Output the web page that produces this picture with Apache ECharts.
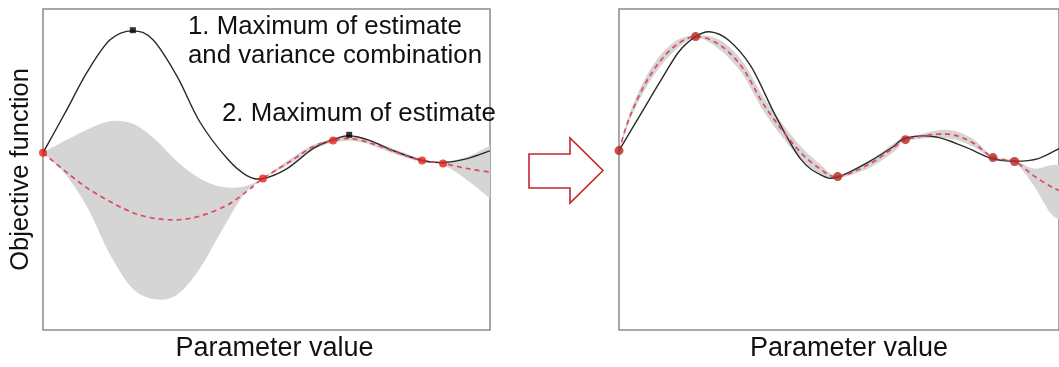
<!DOCTYPE html>
<html><head><meta charset="utf-8">
<script src="https://cdn.jsdelivr.net/npm/echarts@6/dist/echarts.min.js"></script>
<style>html,body{margin:0;padding:0;background:#fff}#c{width:1059px;height:367px}</style>
</head><body><div id="c"></div>
<script>
// ---------- Left panel (before) ----------
const leftTrueX = [0, 5.4, 9.8, 15.0, 20.1, 24.6, 30.0, 35.1, 41.2, 45.6, 49.2, 54.6, 60.4, 64.9, 68.5, 73.2, 78.3, 84.8, 89.5, 94.9, 100];
const leftTrueY = [55.2, 68.8, 80.2, 90.4, 93.2, 90.4, 79.0, 64.8, 53.4, 48.1, 47.2, 50.3, 56.5, 59.3, 60.5, 59.0, 55.9, 52.8, 52.2, 53.4, 55.8];
const leftEstX = [0, 9.0, 16.5, 22.4, 29.1, 35.1, 41.2, 45.6, 49.2, 55.3, 60.4, 64.9, 68.7, 73.8, 79.9, 84.8, 89.5, 94.9, 100];
const leftEstY = [55.2, 45.1, 38.9, 35.5, 34.3, 35.5, 38.9, 43.2, 47.2, 52.5, 57.1, 59.0, 59.6, 58.0, 54.9, 52.8, 51.9, 50.3, 49.2];
const leftBandX = [0, 5, 10, 15, 20, 25, 30, 35, 40, 45, 49.2, 55, 60, 65, 70, 75, 80, 85, 89.5, 95, 100];
const leftBandHi = [55.2, 59.0, 62.5, 65.0, 64.3, 59.5, 52.5, 47.3, 44.6, 44.7, 47.4, 53.0, 57.4, 59.6, 60.2, 58.2, 55.6, 53.2, 52.3, 54.0, 57.4];
const leftBandLo = [55.2, 48.5, 38.0, 23.5, 13.0, 9.6, 11.0, 19.0, 31.0, 42.3, 47.0, 51.6, 56.0, 58.4, 58.8, 56.8, 54.2, 52.2, 51.5, 46.6, 41.0];
const leftSamplesX = [0, 49.2, 64.9, 84.8, 89.5];
const leftSamplesY = [55.2, 47.2, 59.0, 52.8, 51.9];
const leftMaxX = [20.1, 68.5];
const leftMaxY = [93.4, 60.8];

// ---------- Right panel (after) ----------
const rightTrueX = [0, 4.7, 9.4, 13.6, 17.4, 20.6, 24.8, 30.0, 35.6, 41.2, 45.9, 49.6, 56.8, 62.2, 65.1, 71.8, 78.5, 84.8, 90.2, 95.3, 100];
const rightTrueY = [55.9, 66.7, 77.5, 86.7, 91.4, 92.9, 90.4, 82.1, 66.7, 53.4, 48.3, 47.6, 52.4, 57.0, 59.8, 60.2, 57.1, 53.4, 52.6, 53.4, 56.5];
const rightEstX = [0, 2.7, 7.2, 12.3, 17.4, 22.8, 28.0, 33.3, 40.5, 45.6, 49.7, 56.8, 62.9, 65.1, 74.0, 80.1, 85.0, 89.9, 94.2, 98.0, 100];
const rightEstY = [55.9, 67.3, 79.6, 88.0, 91.4, 88.9, 81.8, 69.4, 56.5, 50.3, 47.8, 51.6, 57.3, 59.3, 61.1, 58.6, 53.7, 52.5, 48.1, 44.8, 43.5];
const rightBandHi = [56.2, 68.5, 81.4, 89.5, 91.8, 90.4, 83.8, 71.6, 58.5, 51.8, 48.2, 52.8, 58.6, 59.7, 62.4, 59.8, 54.1, 52.9, 50.3, 51.3, 51.5];
const rightBandLo = [55.6, 66.1, 77.8, 86.5, 91.0, 87.4, 79.8, 67.2, 54.5, 48.8, 47.4, 50.4, 56.0, 58.9, 59.8, 57.4, 53.3, 52.1, 45.1, 36.5, 34.5];
const rightSamplesX = [0, 17.4, 49.7, 65.1, 85.0, 89.9];
const rightSamplesY = [55.9, 91.4, 47.8, 59.3, 53.7, 52.5];

const FONT = '"Liberation Sans", Arial, Helvetica, sans-serif';
const pairs = (xs, ys) => xs.map((x, i) => [x, ys[i]]);

function smoothSeg(pts) {
  let d = '';
  for (let i = 0; i < pts.length - 1; i++) {
    const p0 = pts[i - 1] || pts[i], p1 = pts[i], p2 = pts[i + 1], p3 = pts[i + 2] || pts[i + 1];
    const c1 = [p1[0] + (p2[0] - p0[0]) / 6, p1[1] + (p2[1] - p0[1]) / 6];
    const c2 = [p2[0] - (p3[0] - p1[0]) / 6, p2[1] - (p3[1] - p1[1]) / 6];
    d += ' C' + c1[0] + ',' + c1[1] + ' ' + c2[0] + ',' + c2[1] + ' ' + p2[0] + ',' + p2[1];
  }
  return d;
}
function bandSeries(idx, xs, lo, hi) {
  return {
    type: 'custom', xAxisIndex: idx, yAxisIndex: idx, z: 1, silent: true, clip: true,
    data: xs.map((x, i) => [x, lo[i], hi[i]]),
    encode: { x: 0, y: [1, 2] },
    renderItem: function (params, api) {
      if (params.dataIndex !== 0) return null;
      const up = xs.map((x, i) => api.coord([x, hi[i]]));
      const dn = xs.map((x, i) => api.coord([x, lo[i]])).reverse();
      const d = 'M' + up[0][0] + ',' + up[0][1] + smoothSeg(up) +
        ' L' + dn[0][0] + ',' + dn[0][1] + smoothSeg(dn) + ' Z';
      return { type: 'path', shape: { pathData: d }, style: { fill: '#d5d5d5', stroke: null } };
    }
  };
}
function curveSeries(idx, xs, ys, color, width, dash, z) {
  return {
    type: 'custom', xAxisIndex: idx, yAxisIndex: idx, z: z, silent: true, clip: true,
    data: pairs(xs, ys), encode: { x: 0, y: 1 },
    renderItem: function (params, api) {
      if (params.dataIndex !== 0) return null;
      const p = xs.map((x, i) => api.coord([x, ys[i]]));
      const d = 'M' + p[0][0] + ',' + p[0][1] + smoothSeg(p);
      return { type: 'path', shape: { pathData: d },
        style: { fill: null, stroke: color, lineWidth: width, lineDash: dash || null, lineCap: 'butt', lineJoin: 'round' } };
    }
  };
}
const axisOff = { axisLine: { show: false }, axisTick: { show: false }, axisLabel: { show: false }, splitLine: { show: false } };

const chart = echarts.init(document.getElementById('c'), null, { renderer: 'canvas' });
chart.setOption({
  animation: false,
  backgroundColor: '#fff',
  grid: [
    { left: 43, top: 9, width: 447, height: 324, show: true, borderColor: '#8a8a8a', borderWidth: 1.5, backgroundColor: 'transparent' },
    { left: 619, top: 9, width: 447, height: 324, show: true, borderColor: '#8a8a8a', borderWidth: 1.5, backgroundColor: 'transparent' }
  ],
  xAxis: [
    Object.assign({ type: 'value', gridIndex: 0, min: 0, max: 100, name: 'Parameter value', nameLocation: 'middle', nameGap: 5,
      nameTextStyle: { fontSize: 27, color: '#111', fontFamily: FONT, verticalAlign: 'top', padding: [0, 0, 0, 16] } }, axisOff),
    Object.assign({ type: 'value', gridIndex: 1, min: 0, max: 100, name: 'Parameter value', nameLocation: 'middle', nameGap: 5,
      nameTextStyle: { fontSize: 27, color: '#111', fontFamily: FONT, verticalAlign: 'top', padding: [0, 0, 0, 20] } }, axisOff)
  ],
  yAxis: [
    Object.assign({ type: 'value', gridIndex: 0, min: 0, max: 100, name: 'Objective function', nameLocation: 'middle', nameGap: 9,
      nameTextStyle: { fontSize: 25.5, color: '#111', fontFamily: FONT } }, axisOff),
    Object.assign({ type: 'value', gridIndex: 1, min: 0, max: 100 }, axisOff)
  ],
  graphic: [
    { type: 'polygon', shape: { points: [[529, 154], [570, 154], [570, 138], [603, 170.5], [570, 203], [570, 188], [529, 188]] },
      style: { fill: '#fff', stroke: '#c4262e', lineWidth: 1.6 } },
    { type: 'text', x: 188, y: 27, style: { text: '1. Maximum of estimate', font: '25.8px ' + FONT, fill: '#111', verticalAlign: 'middle' } },
    { type: 'text', x: 188, y: 56, style: { text: 'and variance combination', font: '25.8px ' + FONT, fill: '#111', verticalAlign: 'middle' } },
    { type: 'text', x: 222, y: 114, style: { text: '2. Maximum of estimate', font: '25.8px ' + FONT, fill: '#111', verticalAlign: 'middle' } }
  ],
  series: [
    bandSeries(0, leftBandX, leftBandLo, leftBandHi),
    curveSeries(0, leftTrueX, leftTrueY, '#2a2a2a', 1.4, null, 2),
    curveSeries(0, leftEstX, leftEstY, '#e2485a', 1.7, [5, 4], 3),
    { type: 'scatter', xAxisIndex: 0, yAxisIndex: 0, data: pairs(leftSamplesX, leftSamplesY), symbol: 'circle', symbolSize: 8, z: 4, silent: true,
      itemStyle: { color: '#e0231d' } },
    { type: 'scatter', xAxisIndex: 0, yAxisIndex: 0, data: pairs(leftMaxX, leftMaxY), symbol: 'rect', symbolSize: 6, z: 5, silent: true,
      itemStyle: { color: '#000' } },

    bandSeries(1, rightEstX, rightBandLo, rightBandHi),
    curveSeries(1, rightTrueX, rightTrueY, '#2a2a2a', 1.4, null, 2),
    curveSeries(1, rightEstX, rightEstY, '#e2485a', 1.7, [5, 4], 3),
    { type: 'scatter', xAxisIndex: 1, yAxisIndex: 1, data: pairs(rightSamplesX, rightSamplesY), symbol: 'circle', symbolSize: 9, z: 4, silent: true,
      itemStyle: { color: '#b3261f' } }
  ]
});
</script></body></html>
